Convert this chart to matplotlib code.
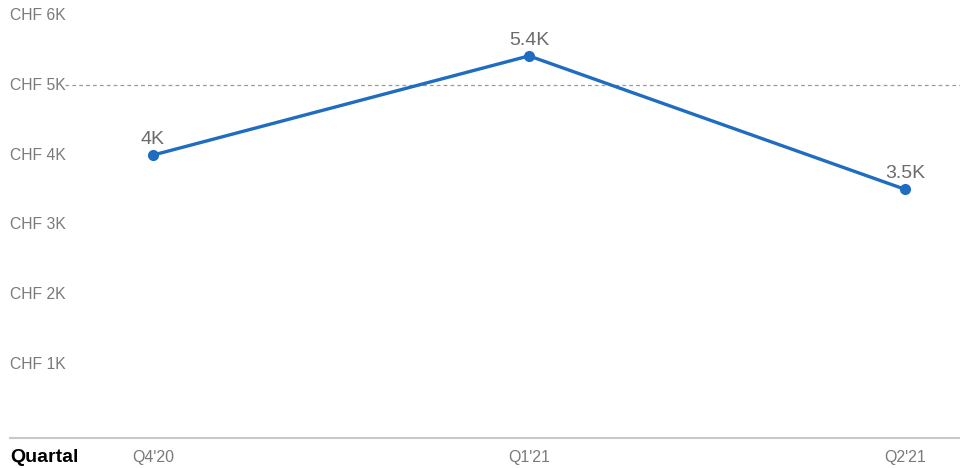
import matplotlib.pyplot as plt
import matplotlib.transforms as mtransforms

# data
quarters = ["Q4'20", "Q1'21", "Q2'21"]
values = [4000, 5420, 3510]
value_labels = ["4K", "5.4K", "3.5K"]
y_ticks = [1000, 2000, 3000, 4000, 5000, 6000]
y_tick_labels = ["CHF 1K", "CHF 2K", "CHF 3K", "CHF 4K", "CHF 5K", "CHF 6K"]
ref_value = 5000

plt.rcParams['font.family'] = ['Liberation Sans', 'DejaVu Sans']

fig = plt.figure(figsize=(9.6, 4.68), dpi=100)
ax = fig.add_axes([10 / 960, 30 / 468, 950 / 960, 438 / 468])
ax.set_xlim(-0.38, 2.146)
ax.set_ylim(-49, 6220)

x = list(range(len(quarters)))
line_color = '#1f6cc1'
ax.plot(x, values, color=line_color, lw=2.4, marker='o', ms=7, zorder=3)
for i, v, lab in zip(x, values, value_labels):
    ax.annotate(lab, xy=(i, v), xytext=(0, 5), textcoords='offset points',
                ha='center', va='bottom', fontsize=14, color='#6b6b6b')

# dashed reference line
ax.axhline(ref_value, xmin=0.058, xmax=1, color='#9a9a9a', lw=0.9, ls=(0, (3, 2.5)), zorder=1)

# y labels on the left, inside the plot area
trans = mtransforms.blended_transform_factory(ax.transAxes, ax.transData)
for t, lab in zip(y_ticks, y_tick_labels):
    ax.text(0, t, lab, transform=trans, ha='left', va='center', fontsize=11.3, color='#7a7a7a')

# x labels below the baseline
trans_x = mtransforms.blended_transform_factory(ax.transData, ax.transAxes)
for i, q in zip(x, quarters):
    ax.text(i, -0.045, q, transform=trans_x, ha='center', va='center', fontsize=11.5, color='#7a7a7a')
ax.text(0, -0.045, 'Quartal', transform=ax.transAxes, ha='left', va='center',
        fontsize=14, fontweight='bold', color='black')

for s in ['top', 'right', 'left']:
    ax.spines[s].set_visible(False)
ax.spines['bottom'].set_color('#c8c8c8')
ax.spines['bottom'].set_linewidth(1.5)
ax.set_xticks([])
ax.set_yticks([])

fig.savefig('out.png', dpi=100)
